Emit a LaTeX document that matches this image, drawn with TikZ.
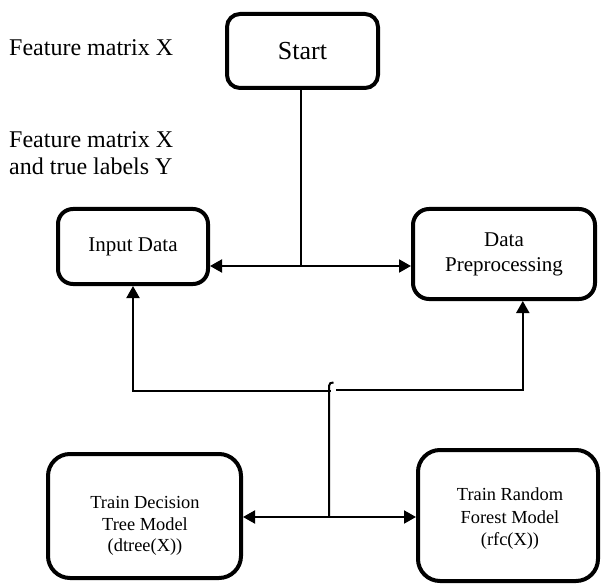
\documentclass[tikz,border=0pt]{standalone}
\usepackage{fontspec}
\setmainfont{Liberation Serif}
\usetikzlibrary{arrows.meta,calc}
\begin{document}
\begin{tikzpicture}[x=1pt,y=-1pt,
  box/.style={draw,line width=4pt,rounded corners=#1,inner sep=0pt},
  box/.default=14pt,
  conn/.style={line width=2pt},
  arr/.style={line width=2pt,-{Triangle[length=12pt,width=13pt]}},
  lbl/.style={font=\fontsize{24}{27}\selectfont,align=left,anchor=west,inner sep=0pt}]
\useasboundingbox (0,0) rectangle (602,585);
% boxes
\node[box=13pt,minimum width=151pt,minimum height=74pt,font=\fontsize{26}{30}\selectfont] (start) at (302.5,51) {Start};
\node[box=15pt,minimum width=150pt,minimum height=75pt,font=\fontsize{21}{25}\selectfont] (inp) at (133,246.5) {Input Data};
\node[box=16pt,minimum width=182pt,minimum height=90pt,font=\fontsize{21}{25}\selectfont,align=center] (dp) at (504,254) {Data\\Preprocessing};
\node[box=22pt,minimum width=193pt,minimum height=124pt] (dt) at (144.5,516) {};
\node[font=\fontsize{18.4}{21.5}\selectfont,align=center] (dtt) at (145,526) {Train Decision\\Tree Model\\(dtree(X))};
\node[box=22pt,minimum width=180pt,minimum height=131pt] (rf) at (508,515.5) {};
\node[font=\fontsize{18.4}{22.5}\selectfont,align=center] (rft) at (510,519) {Train Random\\Forest Model\\(rfc(X))};
% side labels
\node[lbl] (l1) at (9,48) {Feature matrix X};
\node[lbl] (l2) at (9,153.5) {Feature matrix X\\and true labels Y};
% top connectors
\coordinate (j1) at (300.6,266);
\draw[conn] (start.south -| j1) -- (j1);
\draw[arr] (j1) -- (j1 -| inp.east);
\draw[arr] (j1) -- (j1 -| dp.west);
% bottom connectors
\coordinate (j2) at (330.5,391);
\coordinate (j3) at (336,389.5);
\coordinate (dpx) at (522.8,0);
\coordinate (vb) at (329,517);
\coordinate (vt) at (329,386);
\coordinate (hk) at (333.5,382.5);
\draw[arr] (j2) -| (inp.south);
\draw[arr] (j3) -| (dp.south -| dpx);
\draw[conn] (vb) -- (vt) .. controls (329,383) and (331,382.5) .. (hk);
\draw[arr] (vb) -- (vb -| dt.east);
\draw[arr] (vb) -- (vb -| rf.west);
\end{tikzpicture}
\end{document}
